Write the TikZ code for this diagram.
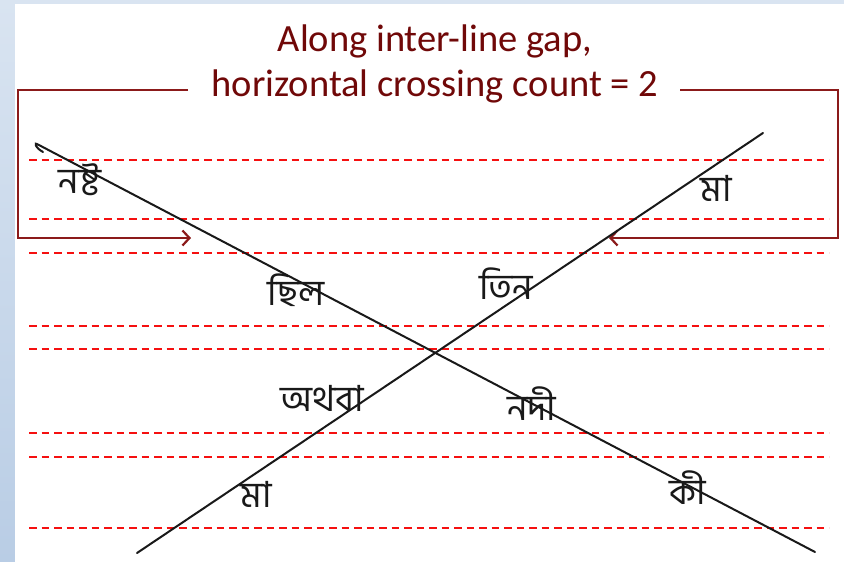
\documentclass[tikz,border=0pt]{standalone}
\usepackage{fontspec}
\setmainfont{Carlito}
\newfontfamily\bnfont[Script=Bengali]{Hind Siliguri}
\usetikzlibrary{arrows.meta}
\definecolor{titlered}{HTML}{700808}
\definecolor{bracketred}{HTML}{8B1A1A}
\definecolor{guidered}{HTML}{F51010}
\definecolor{bgtop}{HTML}{D9E4F1}
\definecolor{bgbot}{HTML}{B9CDE5}
\begin{document}
\begin{tikzpicture}[x=1pt,y=-1pt,
  titletext/.style={text=titlered,align=center,font=\fontsize{38.5}{45}\selectfont,inner sep=0pt},
  bracket/.style={draw=bracketred,line width=2.4pt,line join=miter},
  bracketarrow/.style={bracket,-{Straight Barb[length=7pt,width=15pt,line width=2.2pt]}},
  guide/.style={draw=guidered,line width=1.5pt,dash pattern=on 7.5pt off 5pt},
  stroke/.style={draw=black!90,line width=2pt,line cap=round},
  word/.style={font=\bnfont\fontsize{36}{38}\selectfont,inner sep=0pt,text=black!90}]
\useasboundingbox (0,0) rectangle (844,562);
\shade[top color=bgtop,bottom color=bgbot] (0,0) rectangle (844,562);
\fill[white] (15,4) rectangle (844,562);

% title
\node[titletext] (title) at (435,64) {Along inter-line gap,\\horizontal crossing count = 2};

% guide lines
\foreach \y in {160,219,253,326,349,433,457,528}
  \draw[guide] (29,\y) -- (829,\y);

% brackets
\coordinate (lt) at (188,90);
\coordinate (lc1) at (18,90);
\coordinate (lc2) at (18,238);
\coordinate (la) at (191,238);
\coordinate (rt) at (680,90);
\coordinate (rc1) at (838,90);
\coordinate (rc2) at (838,238);
\coordinate (ra) at (609,238);
\draw[bracketarrow] (lt) -- (lc1) -- (lc2) -- (la);
\draw[bracketarrow] (rt) -- (rc1) -- (rc2) -- (ra);

% handwritten lines
\coordinate (a0) at (43,152);
\coordinate (a1) at (37,144);
\coordinate (a2) at (815,552);
\coordinate (b1) at (137,553);
\coordinate (b2) at (763,133);
\draw[stroke] (a0) .. controls (34,147) and (35,142) .. (a1) -- (a2);
\draw[stroke] (b1) -- (b2);

% words
\node[word] (w1) at (80,180) {নষ্ট};
\node[word] (w2) at (296,290) {ছিল};
\node[word] (w3) at (506,284) {তিন};
\node[word] (w4) at (322,398) {অথবা};
\node[word] (w5) at (532,404) {নদী};
\node[word] (w6) at (688,488) {কী};
\node[word] (w7) at (256,494) {মা};
\node[word] (w8) at (716,188) {মা};
\end{tikzpicture}
\end{document}
